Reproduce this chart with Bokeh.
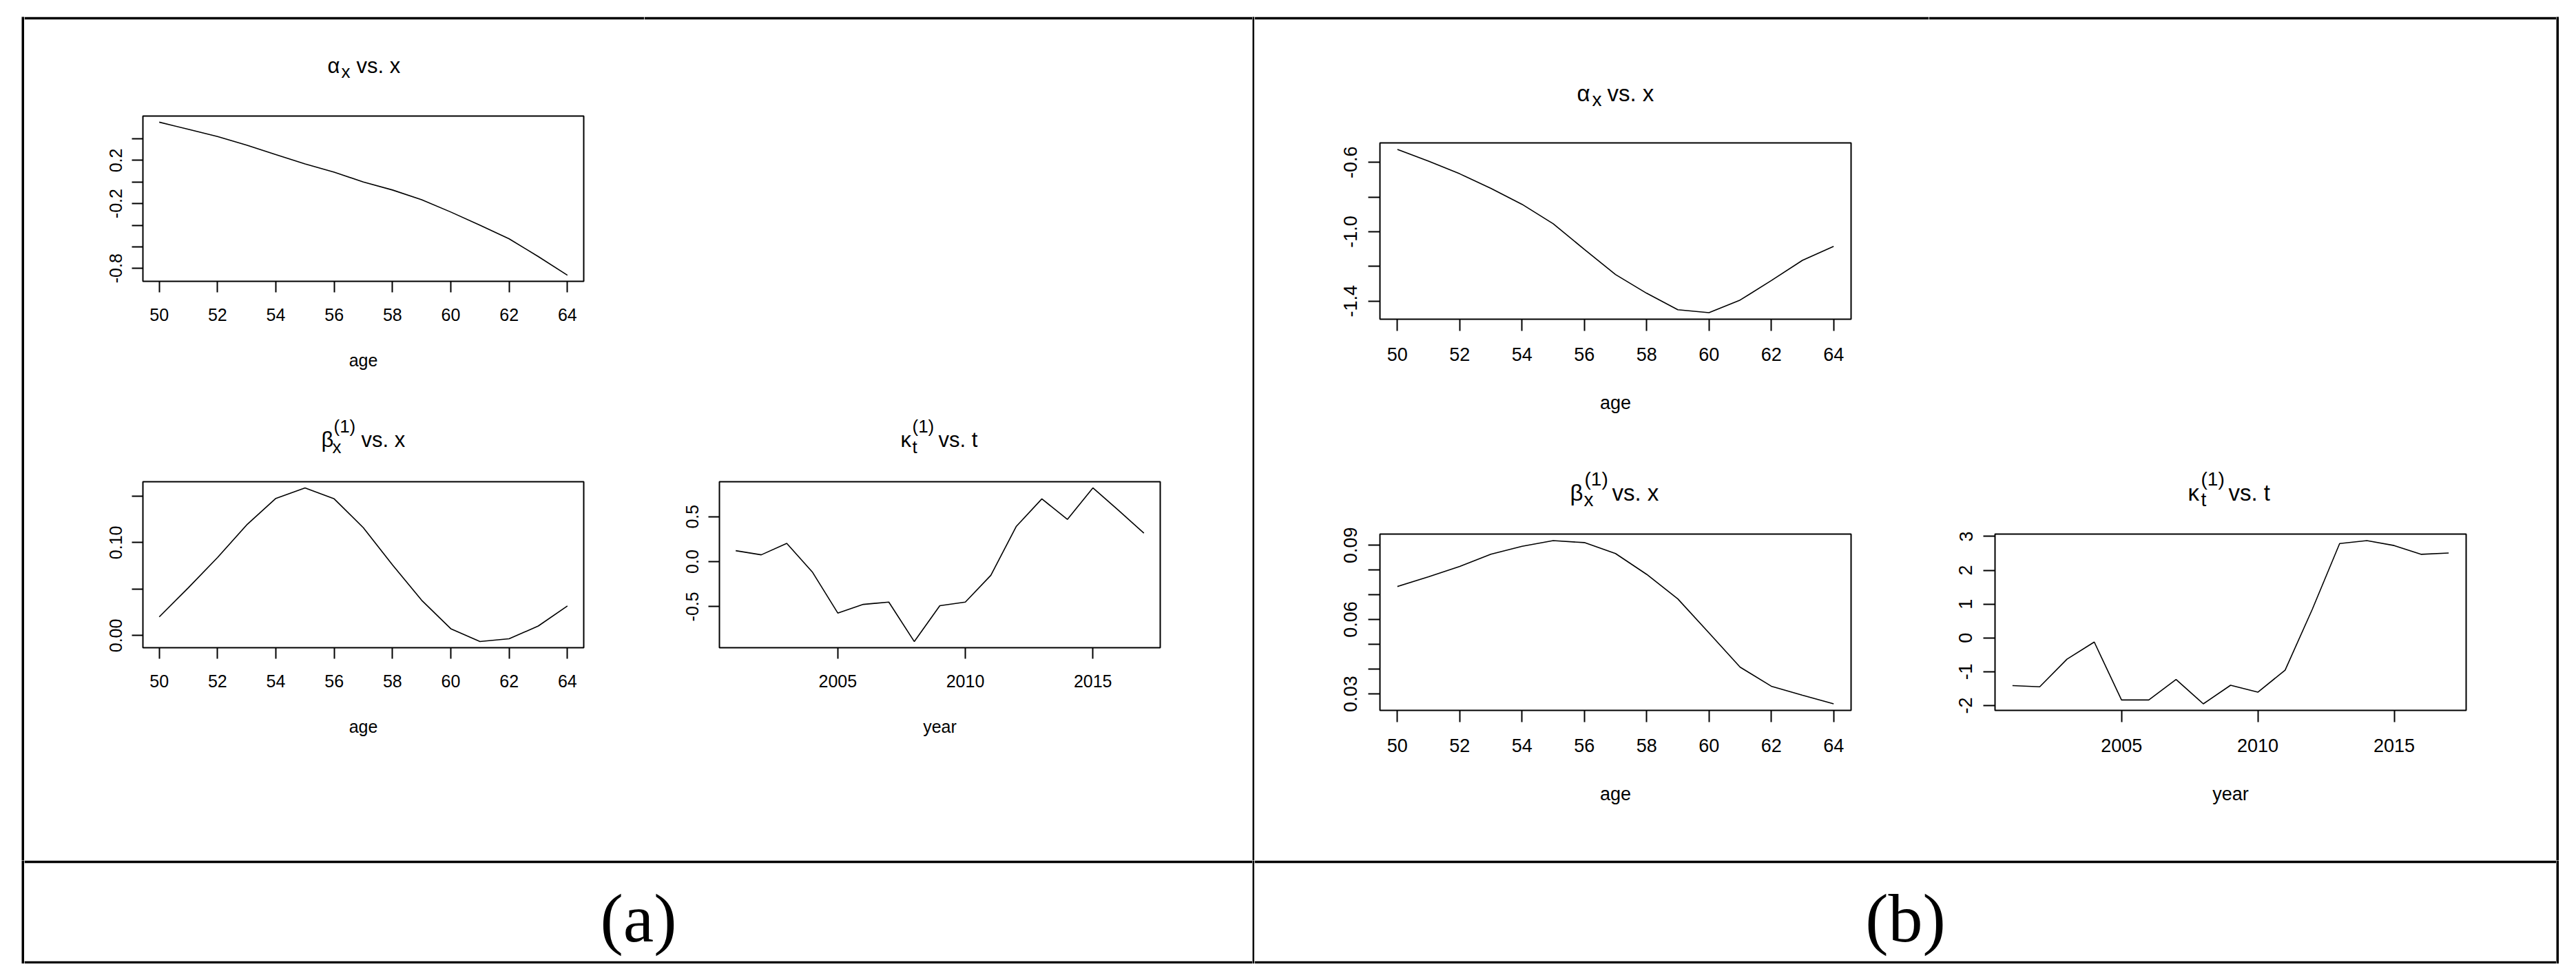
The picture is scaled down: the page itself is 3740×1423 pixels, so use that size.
from bokeh.plotting import figure
from bokeh.models import FixedTicker, Range1d
from bokeh.layouts import row, column
from bokeh.core.properties import value
from bokeh.embed import file_html
from bokeh.resources import INLINE

# ---------------- data ----------------
AGES = [50, 51, 52, 53, 54, 55, 56, 57, 58, 59, 60, 61, 62, 63, 64]
YEARS = [2001, 2002, 2003, 2004, 2005, 2006, 2007, 2008, 2009, 2010,
         2011, 2012, 2013, 2014, 2015, 2016, 2017]

ALPHA_A = [0.554, 0.488, 0.421, 0.341, 0.253, 0.168, 0.091, 0.000, -0.074,
           -0.164, -0.278, -0.400, -0.526, -0.690, -0.863]
BETA_A = [0.0201, 0.0515, 0.0840, 0.1190, 0.1475, 0.1588, 0.1470, 0.1160,
          0.0760, 0.0380, 0.0074, -0.0064, -0.0034, 0.0103, 0.0319]
KAPPA_A = [0.122, 0.076, 0.203, -0.114, -0.571, -0.475, -0.449, -0.888, -0.490,
           -0.449, -0.152, 0.393, 0.698, 0.470, 0.820, 0.571, 0.317]

ALPHA_B = [-0.5255, -0.593, -0.666, -0.750, -0.842, -0.954, -1.102, -1.247,
           -1.355, -1.450, -1.467, -1.394, -1.282, -1.165, -1.085]
BETA_B = [0.0733, 0.0772, 0.0814, 0.0863, 0.0895, 0.0918, 0.0910, 0.0866,
          0.0782, 0.0683, 0.0546, 0.0408, 0.0331, 0.0295, 0.0260]
KAPPA_B = [-1.410, -1.445, -0.630, -0.123, -1.835, -1.835, -1.228, -1.950, -1.400,
           -1.604, -0.954, 0.850, 2.790, 2.876, 2.730, 2.470, 2.510]

AGE_TICKS = [50, 52, 54, 56, 58, 60, 62, 64]
YEAR_TICKS = [2005, 2010, 2015]

ALPHA_A_YTICKS = [-0.8, -0.6, -0.4, -0.2, 0.0, 0.2, 0.4]
ALPHA_A_YLABELS = ["-0.8", "", "", "-0.2", "", "0.2", ""]
BETA_A_YTICKS = [0.0, 0.05, 0.10, 0.15]
BETA_A_YLABELS = ["0.00", "", "0.10", ""]
KAPPA_A_YTICKS = [-0.5, 0.0, 0.5]
KAPPA_A_YLABELS = ["-0.5", "0.0", "0.5"]

ALPHA_B_YTICKS = [-1.4, -1.2, -1.0, -0.8, -0.6]
ALPHA_B_YLABELS = ["-1.4", "", "-1.0", "", "-0.6"]
BETA_B_YTICKS = [0.03, 0.04, 0.05, 0.06, 0.07, 0.08, 0.09]
BETA_B_YLABELS = ["0.03", "", "", "0.06", "", "", "0.09"]
KAPPA_B_YTICKS = [-2, -1, 0, 1, 2, 3]
KAPPA_B_YLABELS = ["-2", "-1", "0", "1", "2", "3"]

TITLE_ALPHA = ["α", "x", "", "vs. x"]
TITLE_BETA = ["β", "x", "(1)", "vs. x"]
TITLE_KAPPA = ["κ", "t", "(1)", "vs. t"]
XLAB_AGE = "age"
XLAB_YEAR = "year"
CAPTIONS = ["(a)", "(b)"]

FONT = "Liberation Sans"
GAP = 10      # space between title strip and plot frame
RULE = 4      # thickness of horizontal table rules
MID = 0.32    # em-box centre above baseline


def padded(vals):
    lo, hi = min(vals), max(vals)
    pad = 0.04 * (hi - lo)
    return Range1d(lo - pad, hi + pad)


def framed(w, h, top=0, bottom=0, color="white"):
    """Plain figure: white frame, black rules as top/bottom borders."""
    b = figure(width=w, height=h, output_backend="svg", toolbar_location=None,
               title=None, x_axis_type=None, y_axis_type=None,
               min_border_left=0, min_border_right=0,
               min_border_top=top, min_border_bottom=bottom,
               x_range=Range1d(0, w), y_range=Range1d(0, h - top - bottom))
    b.frame_align = False
    b.grid.visible = False
    b.outline_line_color = None
    b.background_fill_color = color
    b.border_fill_color = "black" if color == "white" else color
    return b


def panel(xs, ys, xticks, yticks, ylabels, xlab, title, geo, sty, tpos, rule=False):
    cw, ch, fl, ft, fw, fh = geo
    th = ft - GAP
    t = framed(cw, th + (RULE if rule else 0), top=(RULE if rule else 0))
    sym, sub, sup, rest = title
    dsym, dsub, dsup, drest, base, subb, supb = tpos
    cx = fl + fw / 2.0
    pieces = [(sym, dsym, base, sty["tfs"]), (sub, dsub, subb, sty["sfs"]),
              (sup, dsup, supb, sty["sfs"]), (rest, drest, base, sty["tfs"])]
    for txt, dx, dy, fs in pieces:
        if not txt:
            continue
        t.text(x=[cx + dx], y=[dy - GAP + MID * fs], text=[txt], text_font=value(FONT),
               text_font_size=value("%dpx" % fs), text_color="black",
               text_align="left", text_baseline="middle")

    p = figure(width=cw, height=ch - th, output_backend="svg", toolbar_location=None,
               title=None, x_range=padded(xs), y_range=padded(ys),
               min_border_left=fl, min_border_top=GAP,
               min_border_right=cw - fl - fw, min_border_bottom=ch - ft - fh)
    p.frame_align = False
    p.line(xs, ys, line_color="black", line_width=1.6)
    p.grid.visible = False
    p.outline_line_color = "black"
    p.outline_line_width = 2
    p.outline_line_alpha = 1.0
    p.background_fill_color = "white"
    p.border_fill_color = "white"
    for ax in (p.xaxis[0], p.yaxis[0]):
        ax.axis_line_color = None
        ax.major_tick_out = sty["tick"]
        ax.major_tick_in = 0
        ax.major_tick_line_width = 2
        ax.major_tick_line_color = "black"
        ax.minor_tick_line_color = None
        ax.major_label_text_font = FONT
        ax.major_label_text_font_size = "%dpx" % sty["fs"]
        ax.major_label_text_color = "black"
    xa, ya = p.xaxis[0], p.yaxis[0]
    xa.ticker = FixedTicker(ticks=xticks)
    xa.major_label_standoff = sty["xstand"]
    xa.axis_label = xlab
    xa.axis_label_text_font = FONT
    xa.axis_label_text_font_size = "%dpx" % sty["fs"]
    xa.axis_label_text_font_style = "normal"
    xa.axis_label_text_color = "black"
    xa.axis_label_standoff = sty["labstand"]
    ya.ticker = FixedTicker(ticks=yticks)
    ya.major_label_overrides = dict(zip(yticks, ylabels))
    ya.major_label_orientation = "vertical"
    ya.major_label_standoff = sty["ystand"]
    return column(t, p)


def solid(w, h, color):
    return framed(w, h, color=color)


def caption(w, h, txt):
    c = framed(w, h, top=RULE, bottom=RULE)
    c.text(x=[w / 2.0], y=[30 + MID * 100], text=[txt],
           text_font=value("Liberation Serif"), text_font_size=value("100px"),
           text_color="black", text_align="center", text_baseline="middle")
    return c


STY_A = dict(tick=16, fs=25, tfs=31, sfs=26, xstand=23, ystand=14, labstand=40)
STY_B = dict(tick=17, fs=27, tfs=33, sfs=28, xstand=24, ystand=16, labstand=43)

# (a)
pa1 = panel(AGES, ALPHA_A, AGE_TICKS, ALPHA_A_YTICKS, ALPHA_A_YLABELS, XLAB_AGE,
            TITLE_ALPHA, (900, 532, 172, 140, 640, 240), STY_A,
            (-52, -32, 0, -10, 63, 56, 0), rule=True)
pa2 = panel(AGES, BETA_A, AGE_TICKS, BETA_A_YTICKS, BETA_A_YLABELS, XLAB_AGE,
            TITLE_BETA, (910, 689, 172, 139, 640, 241), STY_A,
            (-61, -45, -43, -3, 51, 42, 72))
pa3 = panel(YEARS, KAPPA_A, YEAR_TICKS, KAPPA_A_YTICKS, KAPPA_A_YLABELS, XLAB_YEAR,
            TITLE_KAPPA, (873, 689, 99, 139, 640, 241), STY_A,
            (-57, -40, -40, -2, 51, 42, 72))
cellA = column(row(pa1, framed(883, 532 + RULE, top=RULE)), row(pa2, pa3))

# (b)
pb1 = panel(AGES, ALPHA_B, AGE_TICKS, ALPHA_B_YTICKS, ALPHA_B_YLABELS, XLAB_AGE,
            TITLE_ALPHA, (979, 612, 182, 179, 684, 256), STY_B,
            (-56, -34, 0, -12, 61, 54, 0), rule=True)
pb2 = panel(AGES, BETA_B, AGE_TICKS, BETA_B_YTICKS, BETA_B_YLABELS, XLAB_AGE,
            TITLE_BETA, (969, 609, 182, 135, 684, 256), STY_B,
            (-66, -46, -45, -5, 49, 41, 71))
pb3 = panel(YEARS, KAPPA_B, YEAR_TICKS, KAPPA_B_YTICKS, KAPPA_B_YLABELS, XLAB_YEAR,
            TITLE_KAPPA, (921, 609, 106, 135, 684, 256), STY_B,
            (-62, -43, -43, -3, 49, 41, 71))
cellB = column(row(pb1, framed(911, 612 + RULE, top=RULE)), row(pb2, pb3))

LM = 31
TOP_M = 24
TOP_H = 1221 + RULE
CAP_H = 142 + 2 * RULE

layout = column(
    solid(10, TOP_M, "white"),
    row(solid(LM, TOP_H, "white"), solid(4, TOP_H, "black"), cellA,
        solid(3, TOP_H, "black"), cellB, solid(4, TOP_H, "black")),
    row(solid(LM, CAP_H, "white"), solid(4, CAP_H, "black"),
        caption(1783, CAP_H, CAPTIONS[0]), solid(3, CAP_H, "black"),
        caption(1890, CAP_H, CAPTIONS[1]), solid(4, CAP_H, "black")),
)

open("out.html", "w").write(file_html(layout, INLINE))
